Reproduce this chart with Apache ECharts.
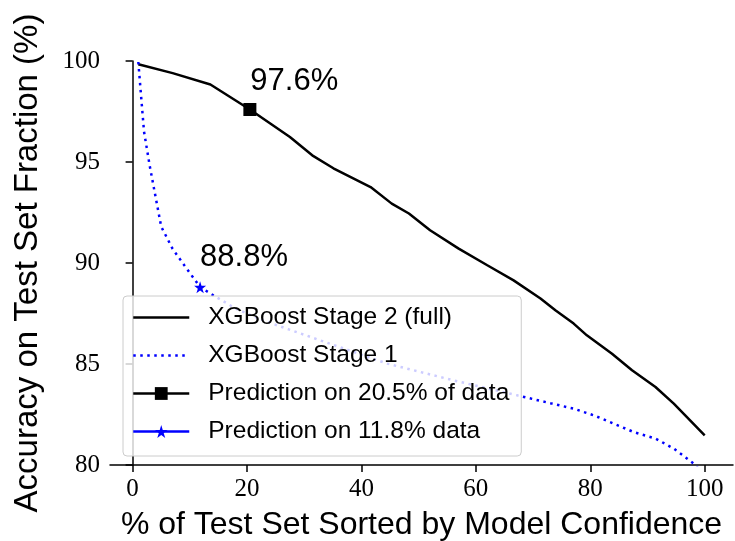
<!DOCTYPE html>
<html>
<head>
<meta charset="utf-8">
<script src="https://cdn.jsdelivr.net/npm/echarts@6/dist/echarts.min.js"></script>
<style>
  html, body { margin: 0; padding: 0; background: #fff; }
  #chart { width: 735px; height: 541px; }
</style>
</head>
<body>
<div id="chart"></div>
<script>
// Stage 2 (full) accuracy curve
const stage2X = [1, 7, 13.6, 20.5, 24, 27.5, 31.4, 35.1, 41.6, 45.3, 48.3, 52, 57, 62, 66.6, 71.3, 73.9, 77.1, 79.4, 83.8, 87.3, 91.4, 94.6, 96.6, 100];
const stage2Y = [99.84, 99.4, 98.84, 97.6, 96.92, 96.24, 95.33, 94.69, 93.76, 92.94, 92.45, 91.62, 90.71, 89.89, 89.14, 88.24, 87.66, 87.0, 86.42, 85.51, 84.69, 83.86, 83.04, 82.46, 81.47];

// Stage 1 accuracy curve
const stage1X = [1, 1.4, 2, 3, 4, 5, 7, 9, 11.8, 14.1, 18, 22.8, 32.8, 44.5, 56.1, 67.2, 73.3, 77.1, 80.6, 84.1, 87.6, 91.4, 94.6, 98.1, 100];
const stage1Y = [99.95, 98.55, 96.5, 94.8, 93.3, 91.8, 90.7, 89.9, 88.81, 88.4, 87.75, 87.16, 86.17, 85.02, 84.19, 83.45, 83.04, 82.79, 82.46, 82.05, 81.63, 81.31, 80.81, 80.07, 79.5];

// highlighted operating points
const pointNames = ['Prediction on 20.5% of data', 'Prediction on 11.8% data'];
const pointX = [20.5, 11.8];
const pointY = [97.6, 88.8];
const pointLabels = ['97.6%', '88.8%'];

const xTicks = [0, 20, 40, 60, 80, 100];

const STAR = 'path://M0,-1L0.2245,-0.309L0.951,-0.309L0.363,0.118L0.588,0.809L0,0.382L-0.588,0.809L-0.363,0.118L-0.951,-0.309L-0.2245,-0.309Z';
const SANS = 'Liberation Sans';
const SERIF = 'Liberation Serif';

function pairs(xs, ys) {
  return xs.map((x, i) => [x, ys[i]]);
}

const chart = echarts.init(document.getElementById('chart'), null, { renderer: 'canvas' });

chart.setOption({
  animation: false,
  backgroundColor: '#fff',
  grid: { left: 110, right: 2, top: 61, bottom: 76, containLabel: false, outerBoundsMode: 'none' },
  xAxis: {
    type: 'value',
    min: -3.95,
    max: 104.95,
    name: '% of Test Set Sorted by Model Confidence',
    nameLocation: 'middle',
    nameGap: 44,
    nameTextStyle: { fontFamily: SANS, fontSize: 32, color: '#000' },
    axisLine: { lineStyle: { color: '#000', width: 1.5 } },
    axisTick: { customValues: xTicks, length: 7, lineStyle: { color: '#000', width: 1.5 } },
    axisLabel: { customValues: xTicks, margin: 12, fontFamily: SERIF, fontSize: 25, color: '#000' },
    splitLine: { show: false }
  },
  yAxis: {
    type: 'value',
    min: 80,
    max: 100,
    interval: 5,
    name: 'Accuracy on Test Set Fraction (%)',
    nameLocation: 'middle',
    nameGap: 66,
    nameTextStyle: { fontFamily: SANS, fontSize: 33, color: '#000' },
    axisLine: { show: true, lineStyle: { color: '#000', width: 1.5 } },
    axisTick: { show: true, length: 7, lineStyle: { color: '#000', width: 1.5 } },
    axisLabel: { margin: 10, fontFamily: SERIF, fontSize: 25, color: '#000' },
    splitLine: { show: false }
  },
  legend: {
    orient: 'vertical',
    left: 123,
    top: 296,
    padding: [9, 12, 12, 9],
    itemWidth: 56,
    itemHeight: 16,
    itemGap: 13,
    borderColor: '#cccccc',
    borderWidth: 1,
    borderRadius: 4,
    backgroundColor: 'rgba(255,255,255,0.8)',
    lineStyle: { width: 2.5 },
    textStyle: { fontFamily: SANS, fontSize: 24.5, lineHeight: 24, color: '#000', padding: [0, 0, 0, 14] },
    data: [
      { name: 'XGBoost Stage 2 (full)', itemStyle: { opacity: 0 } },
      { name: 'XGBoost Stage 1', itemStyle: { opacity: 0 } },
      { name: pointNames[0] },
      { name: pointNames[1] }
    ]
  },
  series: [
    {
      name: 'XGBoost Stage 2 (full)',
      type: 'line',
      data: pairs(stage2X, stage2Y),
      symbol: 'none',
      clip: true,
      lineStyle: { color: '#000', width: 2.5 },
      itemStyle: { color: '#000' }
    },
    {
      name: 'XGBoost Stage 1',
      type: 'line',
      data: pairs(stage1X, stage1Y),
      symbol: 'none',
      clip: true,
      lineStyle: { color: '#0000ff', width: 2.5, type: [2.5, 4.5] },
      itemStyle: { color: '#0000ff' }
    },
    {
      name: pointNames[0],
      type: 'line',
      data: [[pointX[0], pointY[0]]],
      symbol: 'rect',
      symbolSize: 13,
      z: 3,
      lineStyle: { color: '#000', width: 2.5 },
      itemStyle: { color: '#000' },
      label: {
        show: true,
        position: [7, -6],
        align: 'left',
        verticalAlign: 'bottom',
        formatter: pointLabels[0],
        fontFamily: SANS,
        fontSize: 31,
        color: '#000'
      }
    },
    {
      name: pointNames[1],
      type: 'line',
      data: [[pointX[1], pointY[1]]],
      symbol: STAR,
      symbolSize: 12,
      z: 3,
      lineStyle: { color: '#0000ff', width: 2.5 },
      itemStyle: { color: '#0000ff' },
      label: {
        show: true,
        position: [6, -8],
        align: 'left',
        verticalAlign: 'bottom',
        formatter: pointLabels[1],
        fontFamily: SANS,
        fontSize: 31,
        color: '#000'
      }
    }
  ]
});
</script>
</body>
</html>
